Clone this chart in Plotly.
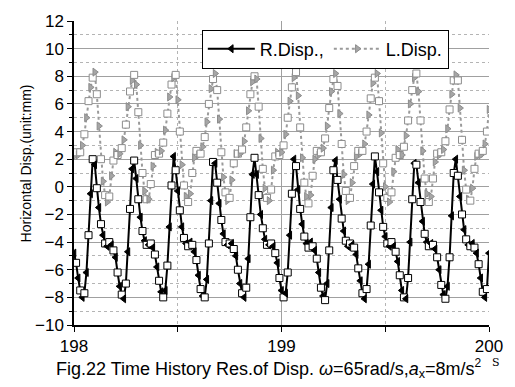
import plotly.graph_objects as go

# time axis: 198.00 .. 200.00 s, step 0.01 s
t_start = 198.0
t_step = 0.01

r_disp = [
    -4.8, -5.5, -6.6, -7.5, -8.0, -7.7, -6.2, -3.5, -0.5, 2.0,
    1.6, -0.1, -1.5, -2.7, -3.5, -4.1, -4.3, -4.0, -4.2, -4.6, -5.1, -6.2, -7.2, -7.8, -8.1, -7.0, -4.7, -1.6, 1.3,
    1.9, 0.6, -0.9, -2.2, -3.2, -3.9, -4.2, -4.2, -4.1, -4.4, -4.9, -5.8, -6.8, -7.6, -8.0, -7.5, -5.7, -2.9, 0.1,
    2.2, 1.2, -0.3, -1.7, -2.9, -3.7, -4.1, -4.3, -4.0, -4.2, -4.7, -5.3, -6.4, -7.4, -7.9, -8.0, -6.7, -4.1, -1.0, 1.8,
    1.7, 0.3, -1.2, -2.4, -3.4, -4.0, -4.2, -4.1, -4.1, -4.5, -5.0, -6.0, -7.0, -7.7, -8.0, -7.3, -5.2, -2.2, 0.9,
    2.1, 0.9, -0.6, -2.0, -3.0, -3.8, -4.2, -4.2, -4.1, -4.3, -4.8, -5.5, -6.6, -7.5, -8.0, -7.7, -6.2, -3.5, -0.5, 2.0,
    1.5, -0.2, -1.6, -2.7, -3.6, -4.1, -4.4, -4.0, -4.3, -4.6, -5.2, -6.2, -7.3, -7.9, -8.2, -7.0, -4.6, -1.5, 1.2,
    1.9, 0.5, -0.9, -2.3, -3.2, -3.9, -4.3, -4.1, -4.2, -4.4, -4.9, -5.9, -6.8, -7.7, -8.1, -7.4, -5.6, -2.8, 0.2,
    2.2, 1.1, -0.4, -1.7, -2.9, -3.6, -4.1, -4.3, -4.0, -4.3, -4.7, -5.4, -6.4, -7.5, -8.0, -8.1, -6.6, -4.0, -0.9, 1.7,
    1.6, 0.3, -1.1, -2.5, -3.4, -4.0, -4.3, -4.1, -4.2, -4.5, -5.1, -6.0, -7.1, -7.8, -8.1, -7.2, -5.1, -2.1, 1.0,
    2.0, 0.8, -0.7, -2.0, -3.1, -3.8, -4.2, -4.3, -4.1, -4.4, -4.8, -5.6, -6.6, -7.6, -8.0, -7.4, -4.8,
]

l_disp = [
    2.2, 2.5, 2.3, 2.5, 3.0, 3.8, 5.0, 6.2, 7.2, 7.9,
    8.3, 6.7, 4.4, 2.0, 0.4, -0.6, -1.1, -0.7, 0.8, 1.9, 2.5, 2.3, 2.4, 2.8, 3.4, 4.5, 5.8, 6.9, 7.7,
    8.1, 7.4, 5.4, 3.0, 1.0, -0.3, -0.9, -0.9, 0.2, 1.5, 2.3, 2.5, 2.4, 2.6, 3.2, 4.1, 5.3, 6.5, 7.4,
    7.9, 8.1, 6.3, 4.0, 1.6, 0.1, -0.7, -1.1, -0.5, 1.0, 2.1, 2.6, 2.3, 2.4, 2.9, 3.6, 4.7, 6.0, 7.1, 7.8,
    8.2, 7.0, 4.9, 2.5, 0.7, -0.4, -1.0, -0.8, 0.5, 1.7, 2.4, 2.4, 2.4, 2.7, 3.3, 4.3, 5.5, 6.7, 7.6,
    8.0, 7.8, 5.8, 3.5, 1.3, -0.1, -0.8, -1.0, -0.2, 1.2, 2.2, 2.5, 2.3, 2.5, 3.0, 3.8, 5.0, 6.2, 7.2, 7.9,
    8.3, 6.6, 4.3, 2.1, 0.3, -0.7, -1.2, -0.6, 0.8, 2.0, 2.6, 2.3, 2.5, 2.8, 3.5, 4.4, 5.7, 6.9, 7.8,
    8.2, 7.3, 5.3, 3.1, 0.9, -0.3, -1.0, -0.8, 0.3, 1.5, 2.2, 2.6, 2.4, 2.6, 3.1, 4.0, 5.2, 6.4, 7.5,
    7.9, 8.2, 6.2, 3.9, 1.7, 0.0, -0.8, -1.1, -0.4, 1.1, 2.1, 2.7, 2.3, 2.3, 2.9, 3.7, 4.8, 6.0, 7.0, 7.9,
    8.2, 6.9, 4.8, 2.6, 0.6, -0.5, -1.1, -0.7, 0.6, 1.8, 2.4, 2.3, 2.5, 2.7, 3.3, 4.2, 5.6, 6.7, 7.7,
    8.1, 7.7, 5.7, 3.4, 1.2, -0.2, -0.9, -1.0, -0.1, 1.3, 2.2, 2.4, 2.3, 2.6, 3.1, 4.0, 5.6,
]

x_ticks = [198, 199, 200]
y_ticks = [-10, -8, -6, -4, -2, 0, 2, 4, 6, 8, 10, 12]

times = [round(t_start + i * t_step, 2) for i in range(len(r_disp))]

FONT = "Liberation Sans, Arial, sans-serif"

n = len(times)
r_sym = ["triangle-left" if i % 2 == 0 else "square" for i in range(n)]
r_fill = ["black" if i % 2 == 0 else "white" for i in range(n)]
l_sym = ["triangle-right" if i % 2 == 0 else "square" for i in range(n)]
l_fill = ["#a6a6a6" if i % 2 == 0 else "white" for i in range(n)]

fig = go.Figure()
fig.add_trace(go.Scatter(
    x=times, y=r_disp, name="R.Disp.,", mode="lines+markers",
    line=dict(color="black", width=2),
    marker=dict(symbol=r_sym, color=r_fill, size=7,
                line=dict(color="black", width=1)),
))
fig.add_trace(go.Scatter(
    x=times, y=l_disp, name="L.Disp.", mode="lines+markers",
    line=dict(color="#9a9a9a", width=2, dash="dot"),
    marker=dict(symbol=l_sym, color=l_fill, size=7,
                line=dict(color="#8c8c8c", width=1)),
))

fig.update_layout(
    width=515, height=387,
    margin=dict(l=74, r=22, t=21, b=62),
    paper_bgcolor="white", plot_bgcolor="white",
    font=dict(family=FONT, size=16, color="black"),
    showlegend=True,
    legend=dict(
        orientation="h", x=0.308, y=0.972, xanchor="left", yanchor="top",
        bgcolor="white", bordercolor="black", borderwidth=1,
        font=dict(family=FONT, size=18, color="black"),
        itemwidth=47, tracegroupgap=0,
    ),
    xaxis=dict(
        range=[198, 200], tickvals=x_ticks, ticktext=[str(v) for v in x_ticks],
        showgrid=True, gridcolor="#a0a0a0", gridwidth=1,
        showline=True, linecolor="black", linewidth=1.5,
        ticks="outside", ticklen=5, tickcolor="black",
        tickfont=dict(family=FONT, size=17),
        minor=dict(dtick=0.5, tick0=198, showgrid=True, gridcolor="#b4b4b4",
                   griddash="dot", gridwidth=1, ticks="outside", ticklen=5,
                   tickcolor="black"),
        zeroline=False,
    ),
    yaxis=dict(
        range=[-10, 12], tickvals=y_ticks,
        showgrid=True, gridcolor="#a0a0a0", gridwidth=1,
        showline=True, linecolor="black", linewidth=1.5,
        ticks="outside", ticklen=5, tickcolor="black",
        tickfont=dict(family=FONT, size=17),
        minor=dict(dtick=1, tick0=-10, showgrid=True, gridcolor="#b4b4b4",
                   griddash="dot", gridwidth=1, ticks="outside", ticklen=3,
                   tickcolor="black"),
        zeroline=False,
    ),
    annotations=[
        dict(text="Horizontal Disp.(unit:mm)", textangle=-90,
             xref="paper", yref="paper", x=-0.1146, y=0.533,
             xanchor="center", yanchor="middle", showarrow=False,
             font=dict(family=FONT, size=14)),
        dict(text="Fig.22 Time History Res.of Disp. <i>ω</i>=65rad/s,<i>a</i><sub>x</sub>=8m/s<sup><span style='font-size:12px'>2</span></sup>",
             xref="paper", yref="paper", x=-0.048, y=-0.142,
             xanchor="left", yanchor="middle", showarrow=False,
             font=dict(family=FONT, size=18)),
        dict(text="S",
             xref="paper", yref="paper", x=1.017, y=-0.122,
             xanchor="center", yanchor="middle", showarrow=False,
             font=dict(family="DejaVu Serif", size=11)),
    ],
)

fig.write_html("out.html")
